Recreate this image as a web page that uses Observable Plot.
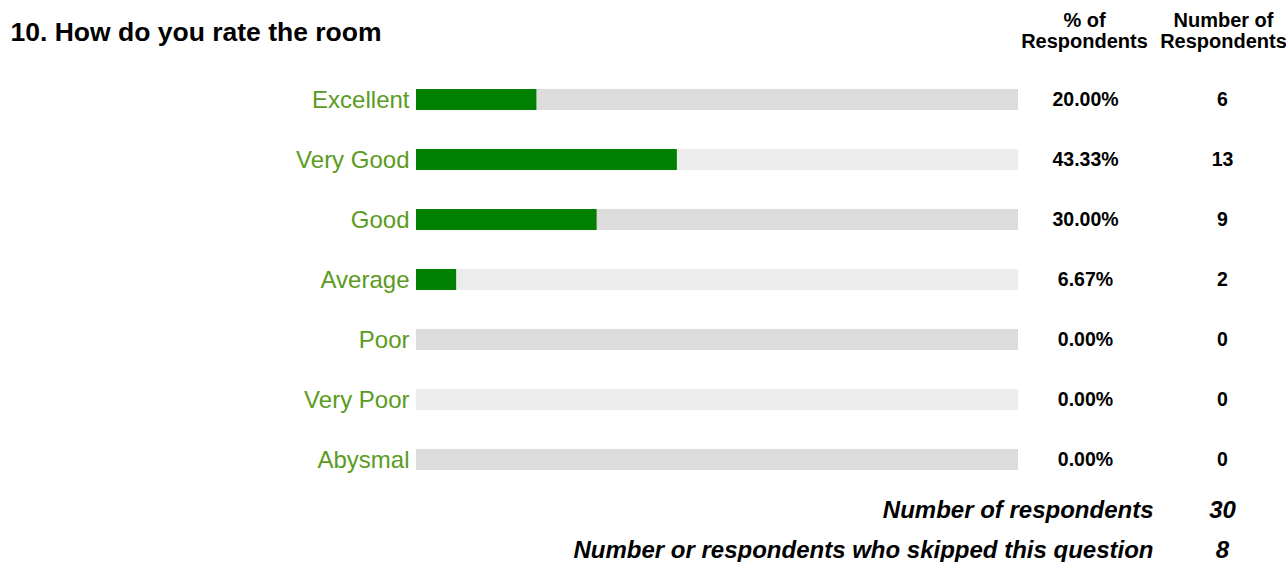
<!DOCTYPE html>
<html>
<head>
<meta charset="utf-8">
<script src="https://cdn.jsdelivr.net/npm/d3@7"></script>
<script src="https://cdn.jsdelivr.net/npm/@observablehq/plot@0.6"></script>
<style>
  html, body { margin: 0; padding: 0; background: #fff; }
  #chart svg { display: block; }
</style>
</head>
<body>
<div id="chart"></div>
<script>
const title = "10. How do you rate the room";
const categories = ["Excellent", "Very Good", "Good", "Average", "Poor", "Very Poor", "Abysmal"];
const percents = [20.00, 43.33, 30.00, 6.67, 0.00, 0.00, 0.00];
const counts = [6, 13, 9, 2, 0, 0, 0];
const columnHeaders = ["% of\nRespondents", "Number of\nRespondents"];
const summaryLabels = ["Number of respondents", "Number or respondents who skipped this question"];
const summaryValues = [30, 8];

const rows = categories.map((c, i) => ({cat: c, pct: percents[i], n: counts[i], i}));

const FONT = "'Liberation Sans', Arial, Helvetica, sans-serif";
const labelGreen = "#5a9b22";

const chart = Plot.plot({
  width: 1286,
  height: 562,
  marginLeft: 416,
  marginRight: 268,
  marginTop: 69,
  marginBottom: 73,
  style: {fontFamily: FONT, background: "#fff", overflow: "visible"},
  x: {domain: [0, 100], axis: null},
  y: {domain: categories, axis: null, paddingInner: 0.65, paddingOuter: 0.325},
  marks: [
    // background track
    Plot.barX(rows, {y: "cat", x1: 0, x2: 100, fill: d => d.i % 2 ? "#ececec" : "#dcdcdc"}),
    // value bar
    Plot.barX(rows.filter(d => d.pct > 0), {y: "cat", x1: 0, x2: "pct", fill: "#008000"}),
    // category labels
    Plot.text(rows, {y: "cat", text: "cat", frameAnchor: "left", dx: -7, textAnchor: "end",
      fontSize: 24, fill: labelGreen}),
    // percent column
    Plot.text(rows, {y: "cat", text: d => d.pct.toFixed(2) + "%", frameAnchor: "right", dx: 67,
      textAnchor: "middle", fontSize: 19.5, fontWeight: "bold", fill: "#000"}),
    // count column
    Plot.text(rows, {y: "cat", text: d => String(d.n), frameAnchor: "right", dx: 204,
      textAnchor: "middle", fontSize: 19.5, fontWeight: "bold", fill: "#000"}),
    // title
    Plot.text([title], {frameAnchor: "top-left", dx: -406, dy: -37, textAnchor: "start",
      lineAnchor: "middle", fontSize: 26.5, fontWeight: "bold", fill: "#000"}),
    // column headers
    Plot.text([columnHeaders[0]], {frameAnchor: "top-right", dx: 66, dy: -39, textAnchor: "middle",
      lineAnchor: "middle", lineHeight: 1.05, fontSize: 20, fontWeight: "bold", fill: "#000"}),
    Plot.text([columnHeaders[1]], {frameAnchor: "top-right", dx: 205, dy: -39, textAnchor: "middle",
      lineAnchor: "middle", lineHeight: 1.05, fontSize: 20, fontWeight: "bold", fill: "#000"}),
    // summary
    Plot.text([summaryLabels[0]], {frameAnchor: "bottom-right", dx: 135, dy: 21, textAnchor: "end",
      lineAnchor: "middle", fontSize: 24, fontWeight: "bold", fontStyle: "italic", fill: "#000"}),
    Plot.text([summaryLabels[1]], {frameAnchor: "bottom-right", dx: 135, dy: 61, textAnchor: "end",
      lineAnchor: "middle", fontSize: 24, fontWeight: "bold", fontStyle: "italic", fill: "#000"}),
    Plot.text([String(summaryValues[0])], {frameAnchor: "bottom-right", dx: 204, dy: 21, textAnchor: "middle",
      lineAnchor: "middle", fontSize: 24, fontWeight: "bold", fontStyle: "italic", fill: "#000"}),
    Plot.text([String(summaryValues[1])], {frameAnchor: "bottom-right", dx: 204, dy: 61, textAnchor: "middle",
      lineAnchor: "middle", fontSize: 24, fontWeight: "bold", fontStyle: "italic", fill: "#000"})
  ]
});
document.getElementById("chart").appendChild(chart);
</script>
</body>
</html>
